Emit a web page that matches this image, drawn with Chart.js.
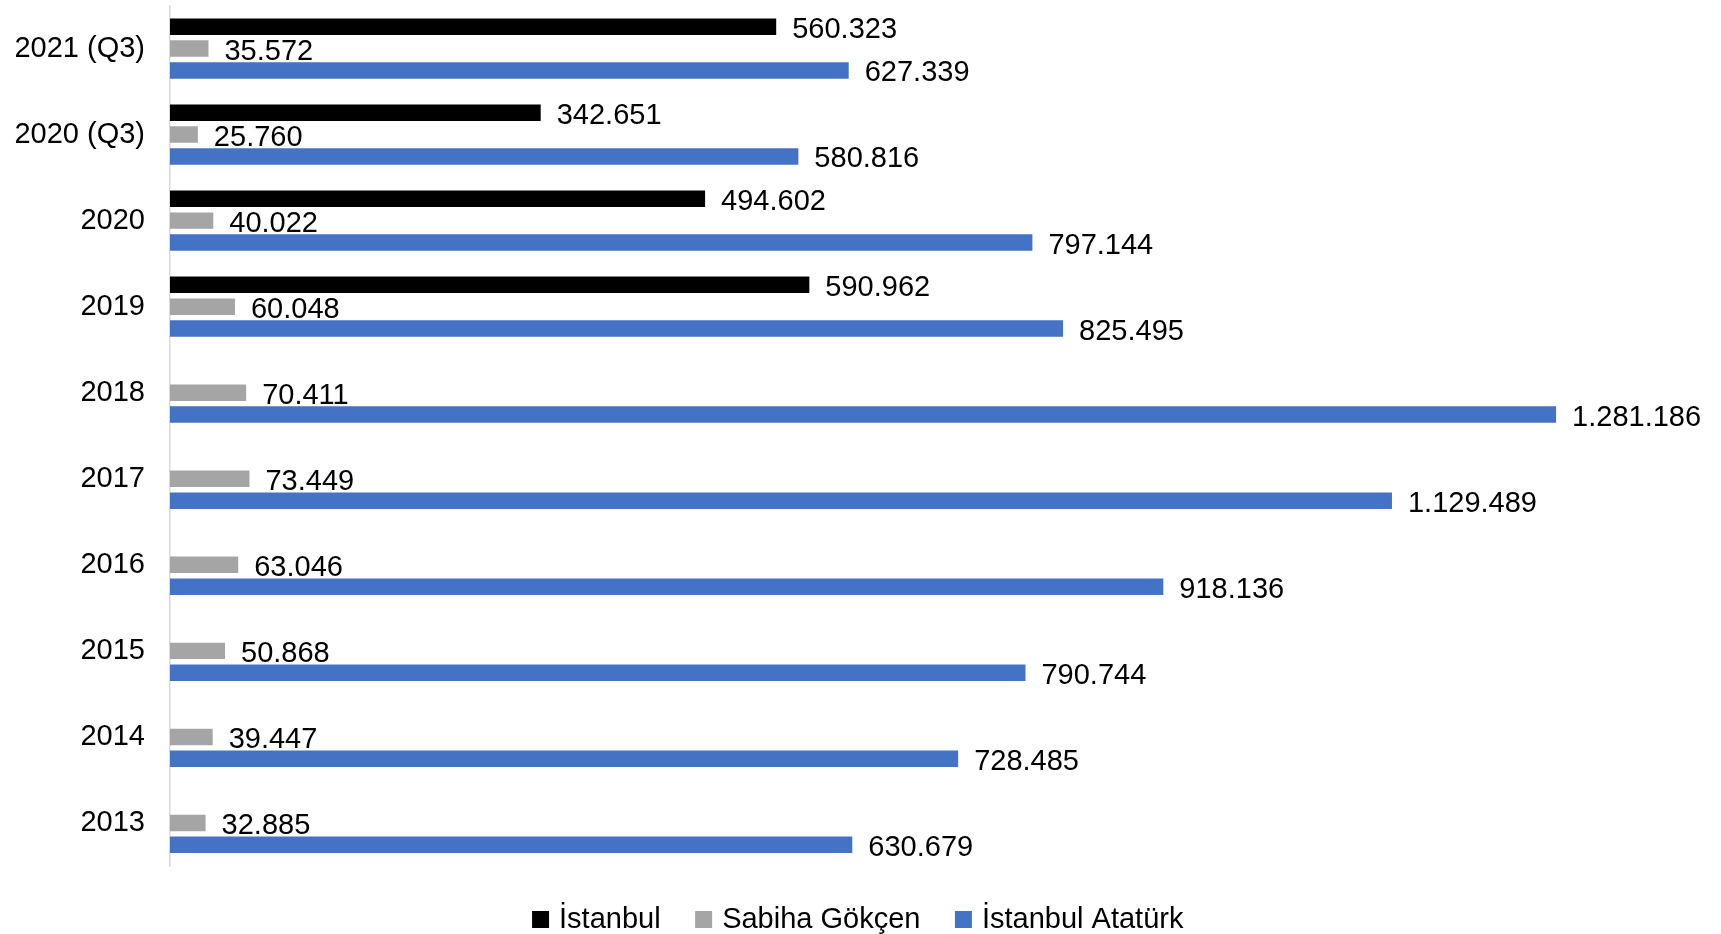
<!DOCTYPE html>
<html lang="tr">
<head>
<meta charset="UTF-8">
<title>Kargo</title>
<script src="https://cdn.jsdelivr.net/npm/chart.js@4/dist/chart.umd.min.js"></script>
<style>
    html, body { margin: 0; padding: 0; background: #fff; overflow: hidden; }
    canvas { display: block; }
</style>
</head>
<body>
<canvas id="grafik" width="1721" height="944"></canvas>
<script>
// Veriler
const yillar = ['2021 (Q3)', '2020 (Q3)', '2020', '2019', '2018', '2017', '2016', '2015', '2014', '2013'];
const istanbul = [560323, 342651, 494602, 590962, null, null, null, null, null, null];
const sabihaGokcen = [35572, 25760, 40022, 60048, 70411, 73449, 63046, 50868, 39447, 32885];
const ataturk = [627339, 580816, 797144, 825495, 1281186, 1129489, 918136, 790744, 728485, 630679];

const yazi = "'Liberation Sans', Arial, sans-serif";

// Sayıları 1.281.186 şeklinde yaz
function formatla(v) {
    return String(v).replace(/\B(?=(\d{3})+(?!\d))/g, '.');
}

// Çubukların sağına değer etiketleri
const degerEtiketleri = {
    id: 'degerEtiketleri',
    afterDatasetsDraw(chart) {
        const ctx = chart.ctx;
        ctx.save();
        ctx.font = '29px ' + yazi;
        ctx.fillStyle = '#000';
        ctx.textAlign = 'left';
        ctx.textBaseline = 'middle';
        chart.data.datasets.forEach((ds, i) => {
            const meta = chart.getDatasetMeta(i);
            meta.data.forEach((bar, j) => {
                const v = ds.data[j];
                if (v === null || v === undefined) return;
                ctx.fillText(formatla(v), bar.x + 16, bar.y + 3);
            });
        });
        ctx.restore();
    }
};

const ctx = document.getElementById('grafik').getContext('2d');

new Chart(ctx, {
    type: 'bar',
    data: {
        labels: yillar,
        datasets: [
            { label: 'İstanbul', data: istanbul, backgroundColor: '#000000', borderWidth: 0 },
            { label: 'Sabiha Gökçen', data: sabihaGokcen, backgroundColor: '#a5a5a5', borderWidth: 0 },
            { label: 'İstanbul Atatürk', data: ataturk, backgroundColor: '#4472c4', borderWidth: 0 }
        ]
    },
    options: {
        indexAxis: 'y',
        responsive: false,
        animation: false,
        events: [],
        categoryPercentage: 0.763,
        barPercentage: 0.753,
        layout: {
            padding: { left: 0, right: 1, top: 5.5, bottom: 0 }
        },
        scales: {
            x: {
                display: false,
                min: 0,
                max: 1432700
            },
            y: {
                grid: { display: false, drawTicks: false },
                border: { display: true, color: '#d9d9d9', width: 1.5 },
                ticks: {
                    color: '#000',
                    padding: 25,
                    autoSkip: false,
                    font: { family: yazi, size: 29 }
                },
                afterFit(scale) {
                    scale.width = 170;
                    scale.paddingTop = 0;
                    scale.paddingBottom = 0;
                }
            }
        },
        plugins: {
            tooltip: { enabled: false },
            legend: {
                position: 'bottom',
                labels: {
                    color: '#000',
                    font: { family: yazi, size: 29 },
                    usePointStyle: true,
                    pointStyle: 'rect',
                    boxWidth: 8,
                    boxHeight: 17,
                    padding: 39
                }
            }
        }
    },
    plugins: [degerEtiketleri]
});
</script>
</body>
</html>
